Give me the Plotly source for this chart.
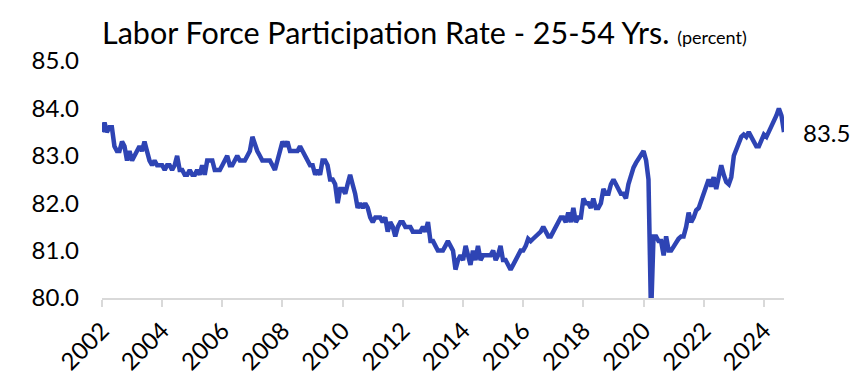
import pandas as pd
import plotly.graph_objects as go

# Monthly values, Jan 2002 - Sep 2024 (percent)
y2002 = [83.5, 83.7, 83.5, 83.6, 83.6, 83.2, 83.1, 83.1, 83.3, 83.2, 82.9, 83.1]
y2003 = [82.9, 83.0, 83.1, 83.2, 83.1, 83.3, 83.1, 82.9, 82.8, 82.9, 82.8, 82.8]
y2004 = [82.8, 82.7, 82.8, 82.8, 82.7, 82.8, 83.0, 82.7, 82.7, 82.6, 82.6, 82.7]
y2005 = [82.6, 82.6, 82.7, 82.6, 82.8, 82.6, 82.9, 82.9, 82.9, 82.7, 82.7, 82.7]
y2006 = [82.8, 82.9, 83.0, 82.8, 82.8, 82.9, 83.0, 82.9, 82.9, 82.9, 83.0, 83.1]
y2007 = [83.4, 83.2, 83.1, 83.0, 82.9, 82.9, 82.9, 82.9, 82.8, 82.7, 82.9, 83.1]
y2008 = [83.3, 83.2, 83.3, 83.1, 83.1, 83.1, 83.1, 83.2, 83.1, 83.0, 82.9, 82.8]
y2009 = [82.8, 82.6, 82.7, 82.6, 82.9, 82.9, 82.8, 82.5, 82.5, 82.4, 82.0, 82.3]
y2010 = [82.3, 82.2, 82.4, 82.6, 82.4, 82.2, 81.9, 82.0, 81.9, 82.0, 81.9, 81.7]
y2011 = [81.6, 81.7, 81.7, 81.7, 81.6, 81.7, 81.4, 81.6, 81.5, 81.3, 81.5, 81.6]
y2012 = [81.6, 81.5, 81.5, 81.5, 81.4, 81.4, 81.4, 81.4, 81.5, 81.4, 81.6, 81.2]
y2013 = [81.2, 81.1, 81.0, 81.0, 81.0, 81.1, 81.2, 81.1, 81.0, 80.6, 80.8, 80.9]
y2014 = [80.8, 81.1, 80.9, 80.7, 81.0, 80.8, 81.1, 80.8, 80.9, 80.9, 80.9, 80.9]
y2015 = [81.0, 80.8, 80.9, 81.1, 80.8, 80.8, 80.7, 80.6, 80.7, 80.8, 80.9, 81.0]
y2016 = [81.0, 81.1, 81.25, 81.2, 81.25, 81.3, 81.35, 81.4, 81.5, 81.4, 81.3, 81.3]
y2017 = [81.4, 81.55, 81.6, 81.7, 81.7, 81.6, 81.8, 81.6, 81.9, 81.6, 81.7, 81.7]
y2018 = [82.1, 82.0, 82.0, 81.9, 82.1, 81.9, 81.9, 82.0, 82.3, 82.2, 82.2, 82.4]
y2019 = [82.5, 82.4, 82.3, 82.2, 82.2, 82.1, 82.4, 82.6, 82.75, 82.85, 82.95, 83.0]
y2020 = [83.1, 82.9, 82.5, 79.6, 81.3, 81.3, 81.2, 81.2, 80.9, 81.3, 81.0, 81.0]
y2021 = [81.1, 81.2, 81.25, 81.3, 81.3, 81.5, 81.8, 81.6, 81.7, 81.85, 81.9, 82.05]
y2022 = [82.2, 82.3, 82.5, 82.35, 82.55, 82.3, 82.5, 82.8, 82.6, 82.45, 82.4, 82.55]
y2023 = [83.0, 83.15, 83.3, 83.4, 83.45, 83.4, 83.5, 83.4, 83.3, 83.2, 83.2, 83.35]
y2024 = [83.45, 83.4, 83.5, 83.65, 83.75, 83.85, 84.0, 83.85, 83.5]

values = (y2002 + y2003 + y2004 + y2005 + y2006 + y2007 + y2008 + y2009 + y2010
          + y2011 + y2012 + y2013 + y2014 + y2015 + y2016 + y2017 + y2018 + y2019
          + y2020 + y2021 + y2022 + y2023 + y2024)
dates = pd.date_range("2002-01-01", periods=len(values), freq="MS")

y_ticks = [80, 81, 82, 83, 84, 85]

title_main = "Labor Force Participation Rate - 25-54 Yrs."
title_sub = "(percent)"

FONT = "Lato, 'Open Sans', sans-serif"
LINE_COLOR = "#2E44B4"
AXIS_COLOR = "#D9D9D9"

fig = go.Figure()
fig.add_trace(go.Scatter(
    x=dates, y=values, mode="lines",
    line=dict(color=LINE_COLOR, width=4.5),
    hoverinfo="skip", showlegend=False,
))

last_val = values[-1]
fig.add_annotation(
    x=dates[-1], y=last_val, text=f"{last_val:.1f}",
    showarrow=False, xanchor="left", yanchor="middle", xshift=17,
    font=dict(family=FONT, size=24, color="#000000"),
)

fig.update_layout(
    width=864, height=384,
    margin=dict(l=102, r=80, t=61, b=86, autoexpand=False),
    paper_bgcolor="white", plot_bgcolor="white",
    font=dict(family=FONT, size=24, color="#000000"),
    title=dict(
        text=f"{title_main} <span style='font-size:18px'>{title_sub}</span>",
        x=102 / 864, xanchor="left", y=1 - 33 / 384, yanchor="middle",
        font=dict(family=FONT, size=30.5, color="#000000"),
    ),
)

fig.update_xaxes(
    type="date", automargin=False,
    range=[dates[0], dates[-1]],
    tick0="2002-01-01", dtick="M24", tickformat="%Y",
    tickangle=-45,
    ticks="outside", ticklen=7, tickwidth=2, tickcolor=AXIS_COLOR,
    showline=True, linecolor=AXIS_COLOR, linewidth=2,
    showgrid=False, zeroline=False,
    tickfont=dict(family=FONT, size=24, color="#000000"),
)
fig.update_yaxes(
    range=[80, 85], automargin=False,
    tickvals=y_ticks, ticktext=[f"{v:.1f}" for v in y_ticks],
    showline=False, showgrid=False, zeroline=False, ticks="",
    ticklabelstandoff=22,
    tickfont=dict(family=FONT, size=24, color="#000000"),
)

fig.write_html(
    "out.html",
    config={"displayModeBar": False},
    post_script="document.body.style.margin='0';document.body.style.overflow='hidden';",
)
